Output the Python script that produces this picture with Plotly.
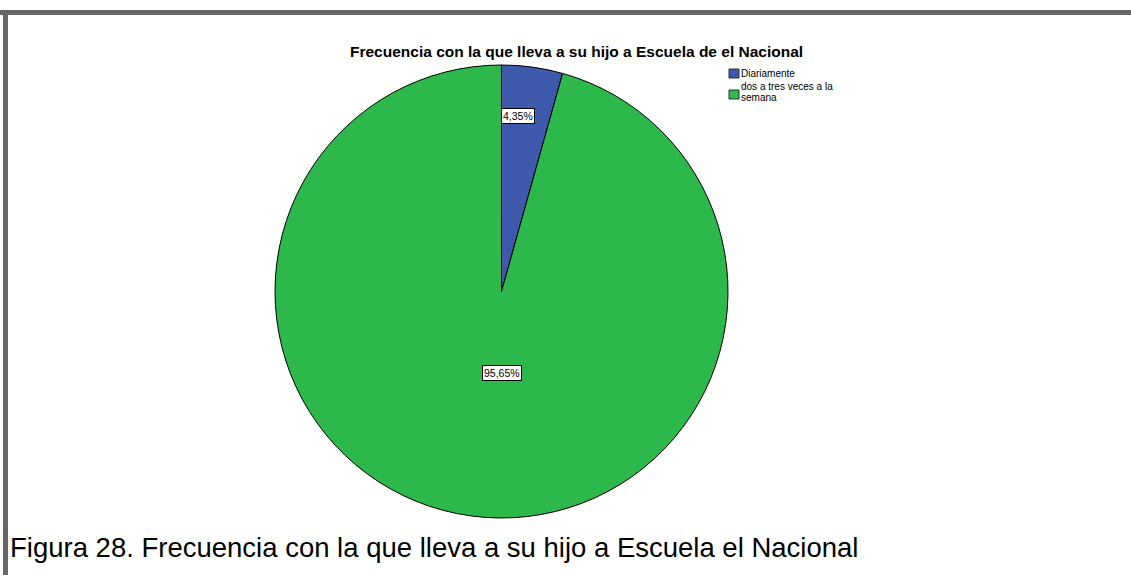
import math
import plotly.graph_objects as go

# Data
categories = ["Diariamente", "dos a tres veces a la<br>semana"]
percentages = [4.35, 95.65]
slice_colors = ["#3E58AC", "#2DB84B"]
value_labels = ["4,35%", "95,65%"]

title_text = "Frecuencia con la que lleva a su hijo a Escuela de el Nacional"
caption_text = "Figura 28. Frecuencia con la que lleva a su hijo a Escuela el Nacional"

W, H = 1131, 575

# pie placement in pixels
cx, cy, R = 501.5, 291.5, 226.5

fig = go.Figure()
fig.add_trace(go.Pie(
    labels=categories,
    values=percentages,
    sort=False,
    direction="clockwise",
    rotation=0,
    marker=dict(colors=slice_colors, line=dict(color="#000000", width=1)),
    textinfo="none",
    hoverinfo="label+percent",
    showlegend=False,
    domain=dict(x=[(cx - R) / W, (cx + R) / W],
                y=[(H - cy - R) / H, (H - cy + R) / H]),
))

def px(x):
    return x / W

def py(y):
    return 1 - y / H

# value labels: radial distance (fraction of R) and angle (degrees clockwise from 12 o'clock)
label_pos = [(0.78, 5.5), (0.36, 180.0)]
annotations = []
for text, (rf, ang) in zip(value_labels, label_pos):
    a = math.radians(ang)
    lx = cx + rf * R * math.sin(a)
    ly = cy - rf * R * math.cos(a)
    annotations.append(dict(
        x=px(lx), y=py(ly), xref="paper", yref="paper",
        text=text, showarrow=False,
        font=dict(family="Liberation Sans, Arial", size=10.5, color="#000000"),
        bgcolor="#FFFFFF", bordercolor="#000000", borderwidth=1, borderpad=1,
        xanchor="center", yanchor="middle",
    ))

# title
annotations.append(dict(
    x=px(576), y=py(52), xref="paper", yref="paper",
    text="<b>" + title_text + "</b>", showarrow=False,
    font=dict(family="Liberation Sans, Arial", size=15.5, color="#000000"),
    xanchor="center", yanchor="middle",
))

# caption
annotations.append(dict(
    x=px(8), y=py(547), xref="paper", yref="paper",
    text=caption_text, showarrow=False,
    font=dict(family="Liberation Sans, Arial", size=27.5, color="#000000"),
    xanchor="left", yanchor="middle",
))

shapes = []
# legend: swatch top y, then centre y of each text line
legend_rows = [(69, [73.5]), (90, [87, 98])]
for name, color, (sy, line_ys) in zip(categories, slice_colors, legend_rows):
    shapes.append(dict(
        type="rect", xref="paper", yref="paper",
        x0=px(729), x1=px(739), y0=py(sy), y1=py(sy + 9),
        fillcolor=color, line=dict(color="#333333", width=1),
    ))
    for line_text, ty in zip(name.split("<br>"), line_ys):
        annotations.append(dict(
            x=px(739.5), y=py(ty), xref="paper", yref="paper",
            text=line_text, showarrow=False, align="left",
            font=dict(family="Liberation Sans, Arial", size=10, color="#000000"),
            xanchor="left", yanchor="middle", borderpad=0,
        ))

# frame
shapes.append(dict(type="rect", xref="paper", yref="paper",
                   x0=0, x1=1, y0=py(15), y1=py(10),
                   fillcolor="#666666", line=dict(width=0)))
shapes.append(dict(type="rect", xref="paper", yref="paper",
                   x0=px(3), x1=px(8), y0=0, y1=py(10),
                   fillcolor="#666666", line=dict(width=0)))

fig.update_layout(
    width=W, height=H,
    margin=dict(l=0, r=0, t=0, b=0),
    paper_bgcolor="#FFFFFF",
    plot_bgcolor="#FFFFFF",
    annotations=annotations,
    shapes=shapes,
)

fig.write_html("out.html")
